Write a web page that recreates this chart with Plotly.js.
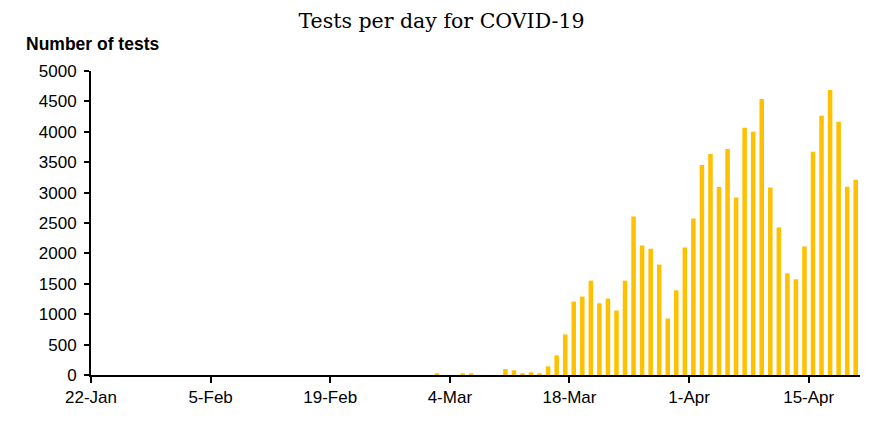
<!DOCTYPE html>
<html>
<head>
<meta charset="utf-8">
<script src="https://cdn.plot.ly/plotly-3.0.1.min.js"></script>
<style>html,body{margin:0;padding:0;background:#fff;}#chart{width:883px;height:423px;}</style>
</head>
<body>
<div id="chart"></div>
<script>
// Daily tests, one value per day starting 22-Jan-2020 (through 20-Apr-2020)
const startDate = [2020, 0, 22];
const testsPerDay = [
  0,0,0,0,0,0,0,0,0,0,          // 22-Jan .. 31-Jan
  0,0,0,0,0,0,0,0,0,0,          // 1-Feb .. 10-Feb
  0,0,0,0,0,0,0,0,0,0,          // 11-Feb .. 20-Feb
  0,0,0,0,0,0,0,0,0,0,          // 21-Feb .. 1-Mar
  28,0,0,28,28,0,0,0,98,77,     // 2-Mar .. 11-Mar
  30,45,30,142,322,667,1208,1290,1552,1180,   // 12-Mar .. 21-Mar
  1257,1060,1552,2607,2131,2077,1815,929,1393,2098, // 22-Mar .. 31-Mar
  2574,3454,3634,3093,3716,2918,4066,4000,4541,3082, // 1-Apr .. 10-Apr
  2426,1672,1574,2115,3672,4262,4689,4164,3098,3213  // 11-Apr .. 20-Apr
];
const tickDates = ['2020-01-22','2020-02-05','2020-02-19','2020-03-04','2020-03-18','2020-04-01','2020-04-15'];
const tickLabels = ['22-Jan','5-Feb','19-Feb','4-Mar','18-Mar','1-Apr','15-Apr'];
const xRange = ['2020-01-22','2020-04-21'];

const dates = testsPerDay.map((v, i) =>
  new Date(Date.UTC(startDate[0], startDate[1], startDate[2] + i)).toISOString().slice(0, 10));

const DAY = 86400000;
const sans = 'Liberation Sans, Arial, sans-serif';

const trace = {
  type: 'bar',
  x: dates,
  y: testsPerDay,
  xperiod: DAY,
  xperiodalignment: 'middle',
  width: 0.53 * DAY,
  marker: {color: '#FFC000', line: {width: 0}},
  hoverinfo: 'x+y'
};

const layout = {
  width: 883,
  height: 423,
  margin: {l: 91, r: 23, t: 71, b: 48, pad: 0},
  paper_bgcolor: '#ffffff',
  plot_bgcolor: '#ffffff',
  showlegend: false,
  title: {
    text: 'Tests per day for COVID-19',
    font: {family: 'DejaVu Serif, Georgia, serif', size: 20.5, color: '#000'},
    xref: 'container', x: 0.5, xanchor: 'center',
    yref: 'container', y: 1 - 21 / 423, yanchor: 'middle'
  },
  xaxis: {
    type: 'date',
    range: xRange,
    tickmode: 'array',
    tickvals: tickDates,
    ticktext: tickLabels,
    ticks: 'outside', ticklen: 6, tickwidth: 2, tickcolor: '#000',
    showline: true, linewidth: 2, linecolor: '#000',
    showgrid: false, zeroline: false,
    tickfont: {family: sans, size: 17, color: '#000'}
  },
  yaxis: {
    range: [0, 5000],
    tick0: 0, dtick: 500,
    ticks: 'outside', ticklen: 5, tickwidth: 2, tickcolor: '#000',
    ticklabelstandoff: 4,
    showline: true, linewidth: 2, linecolor: '#000',
    showgrid: false, zeroline: false,
    tickfont: {family: sans, size: 17, color: '#000'}
  },
  annotations: [{
    text: '<b>Number of tests</b>',
    xref: 'paper', x: (24 - 91) / 769, xanchor: 'left',
    yref: 'paper', y: (375 - 43) / 304.6, yanchor: 'middle',
    showarrow: false,
    font: {family: sans, size: 17.5, color: '#000'}
  }]
};

Plotly.newPlot('chart', [trace], layout, {displayModeBar: false, staticPlot: true});
</script>
</body>
</html>
